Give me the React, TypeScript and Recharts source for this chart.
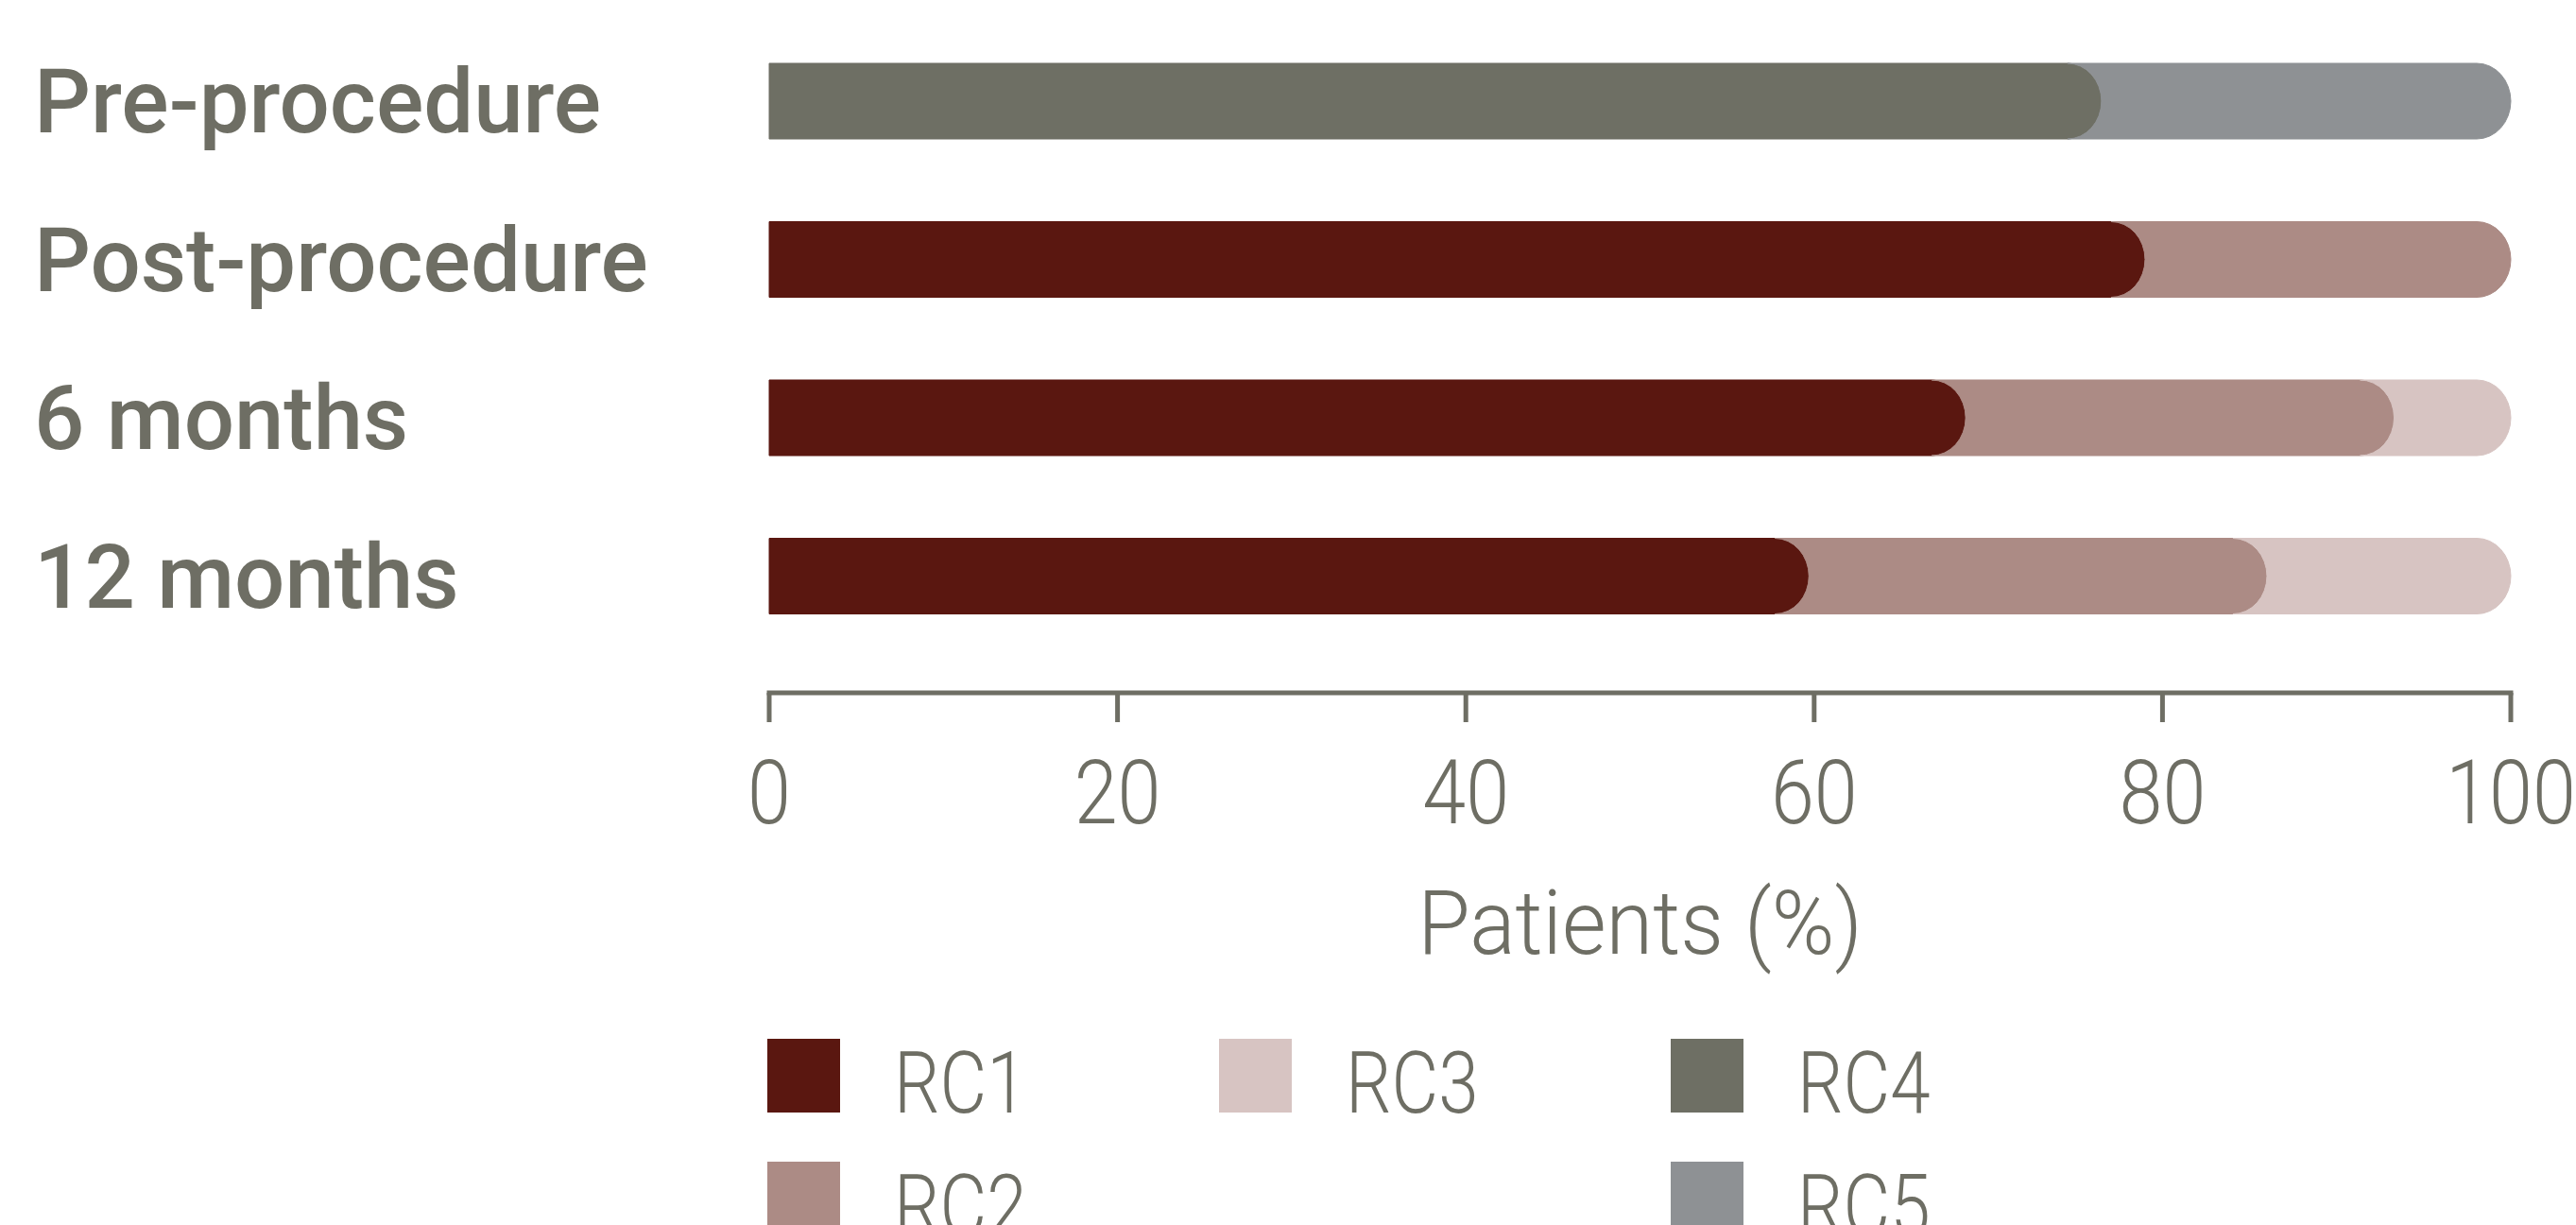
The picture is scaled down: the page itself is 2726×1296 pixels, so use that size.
import React from "react";
import { Bar, BarChart, Legend, XAxis, YAxis } from "recharts";

// Share of patients in each RC class at each follow-up point (%)
const periods = ["Pre-procedure", "Post-procedure", "6 months", "12 months"];
const rc1 = [0, 79, 68.7, 59.7];
const rc2 = [0, 21, 24.6, 26.3];
const rc3 = [0, 0, 6.7, 14];
const rc4 = [76.5, 0, 0, 0];
const rc5 = [23.5, 0, 0, 0];
const xTicks = [0, 20, 40, 60, 80, 100];

const seriesNames = ["RC1", "RC2", "RC3", "RC4", "RC5"];
const seriesColors = ["#5a1710", "#ac8b85", "#d7c4c2", "#6e6f64", "#8e9194"];
// RC1 and RC4 always sit at the start of their row
const flatStarts = [true, false, false, true, false];
// legend is filled column by column
const legendColumns = [["RC1", "RC2"], ["RC3"], ["RC4", "RC5"]];

const TEXT = "#6e6e64";
const LIGHT_FONT = "Roboto, 'Noto Sans', sans-serif";
const CAP = 36;
const LABEL_X = 36;
const LEGEND_PAD = 20;

const data = periods.map((period, i) => ({
  period,
  RC1: rc1[i],
  RC2: rc2[i],
  RC3: rc3[i],
  RC4: rc4[i],
  RC5: rc5[i],
}));

// bar segment with a rounded right end; later segments tuck in behind the previous cap
const segmentShape = (flatStart: boolean) => (props: any) => {
  const { x, y, width, height, fill } = props;
  if (!width || width <= 0) return <g />;
  const ry = height / 2;
  const left = flatStart ? x : x - CAP;
  const right = Math.max(x + width - CAP, left);
  let d = `M${left},${y} L${right},${y} A${CAP},${ry} 0 0 1 ${right},${y + height} L${left},${y + height}`;
  d += flatStart ? " Z" : ` A${CAP},${ry} 0 0 0 ${left},${y} Z`;
  return <path d={d} fill={fill} stroke={fill} strokeWidth={1} />;
};

// light, narrowed text used for the axis numbers, axis title and legend
const NarrowText = ({ x, y, size, squeeze, anchor = "middle", dy, children }: any) => (
  <text
    transform={`translate(${x}, ${y}) scale(${squeeze}, 1)`}
    textAnchor={anchor}
    dy={dy}
    fill={TEXT}
    fontSize={size}
    fontWeight={300}
    fontFamily={LIGHT_FONT}
  >
    {children}
  </text>
);

const PercentTick = (props: any) => (
  <NarrowText x={props.x} y={props.y} size={95} squeeze={0.87} dy="0.71em">
    {props.payload.value}
  </NarrowText>
);

const AxisTitle = (props: any) => {
  const { x, y, width, height } = props.viewBox;
  return (
    <NarrowText x={x + width / 2} y={y + height} size={95} squeeze={0.95}>
      Patients (%)
    </NarrowText>
  );
};

const PeriodTick = (props: any) => {
  const { y, payload } = props;
  return (
    <text
      x={LABEL_X}
      y={y}
      dy="0.355em"
      textAnchor="start"
      fill={TEXT}
      fontSize={94}
      fontWeight={500}
      fontFamily="Roboto, sans-serif"
    >
      {payload.value}
    </text>
  );
};

const renderLegend = (props: any) => {
  const payload: any[] = props.payload || [];
  const colorOf = (name: string) =>
    payload.find((p) => p.value === name)?.color ?? seriesColors[seriesNames.indexOf(name)];
  return (
    <svg width={1400} height={260} style={{ display: "block" }}>
      {legendColumns.map((col, ci) =>
        col.map((name, ri) => (
          <g key={name} transform={`translate(${ci * 478}, ${LEGEND_PAD + ri * 130})`}>
            <rect x={0} y={0} width={77} height={78} fill={colorOf(name)} />
            <NarrowText x={134} y={78} size={90} squeeze={0.85} anchor="start">
              {name}
            </NarrowText>
          </g>
        ))
      )}
    </svg>
  );
};

export default function App() {
  return (
    <div style={{ position: "absolute", left: 0, top: 0, background: "#fff" }}>
      <BarChart
        width={2726}
        height={1296}
        data={data}
        layout="vertical"
        margin={{ top: 23, right: 69, left: 0, bottom: 287 }}
      >
        <XAxis
          type="number"
          domain={[0, 100]}
          ticks={xTicks}
          interval={0}
          height={276}
          axisLine={{ stroke: TEXT, strokeWidth: 5, strokeLinecap: "square" }}
          tickLine={{ stroke: TEXT, strokeWidth: 5 }}
          tickSize={31}
          tickMargin={40}
          tick={<PercentTick />}
          label={<AxisTitle />}
        />
        <YAxis
          type="category"
          dataKey="period"
          width={814}
          axisLine={false}
          tickLine={false}
          padding={{ top: 0, bottom: 40 }}
          tick={<PeriodTick />}
        />
        <Legend
          layout="vertical"
          verticalAlign="middle"
          align="center"
          wrapperStyle={{ left: 812, top: 1099 - LEGEND_PAD, width: 1400, height: 260 }}
          content={renderLegend}
        />
        {seriesNames.map((name, i) => (
          <Bar
            key={name}
            dataKey={name}
            name={name}
            stackId="rc"
            fill={seriesColors[i]}
            barSize={80}
            shape={segmentShape(flatStarts[i])}
            isAnimationActive={false}
          />
        ))}
      </BarChart>
    </div>
  );
}
